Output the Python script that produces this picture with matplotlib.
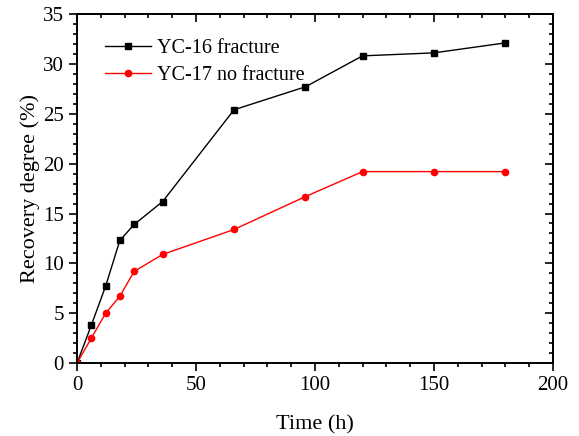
import numpy as np
import matplotlib.pyplot as plt
from matplotlib.ticker import MultipleLocator

# Recovery degree vs time
time_h = [0, 6, 12, 18, 24, 36, 66, 96, 120, 150, 180]
yc16_fracture = [0, 3.8, 7.7, 12.3, 13.9, 16.2, 25.4, 27.7, 30.8, 31.1, 32.1]
yc17_no_fracture = [0, 2.5, 5.0, 6.7, 9.2, 10.9, 13.4, 16.7, 19.2, 19.2, 19.2]

plt.rcParams['font.family'] = ['Liberation Serif', 'DejaVu Serif']

fig = plt.figure(figsize=(5.79, 4.36), dpi=100)
ax = fig.add_axes([0.133, 0.167, 0.822, 0.801])

ax.plot(time_h, yc16_fracture, color='black', marker='s', markersize=4.5,
        linewidth=1.0, label='YC-16 fracture')
ax.plot(time_h, yc17_no_fracture, color='red', marker='o', markersize=4.5,
        linewidth=1.0, label='YC-17 no fracture')

ax.set_xlim(0, 200)
ax.set_ylim(0, 35)
ax.xaxis.set_major_locator(MultipleLocator(50))
ax.xaxis.set_minor_locator(MultipleLocator(10))
ax.yaxis.set_major_locator(MultipleLocator(5))
ax.yaxis.set_minor_locator(MultipleLocator(1))

# left/bottom ticks point out, top/right mirror ticks point in
ax.tick_params(which='both', direction='out', labelsize=15, width=1.2)
ax.tick_params(which='major', length=6)
ax.tick_params(which='minor', length=3)

top = ax.secondary_xaxis('top')
right = ax.secondary_yaxis('right')
top.xaxis.set_major_locator(MultipleLocator(50))
top.xaxis.set_minor_locator(MultipleLocator(10))
right.yaxis.set_major_locator(MultipleLocator(5))
right.yaxis.set_minor_locator(MultipleLocator(1))
for sec in (top, right):
    sec.tick_params(which='both', direction='in', width=1.2,
                    labeltop=False, labelright=False)
    sec.tick_params(which='major', length=6)
    sec.tick_params(which='minor', length=3)

for sp in ax.spines.values():
    sp.set_linewidth(1.4)
top.spines['top'].set_linewidth(1.4)
right.spines['right'].set_linewidth(1.4)

ax.set_xlabel('Time (h)', fontsize=16, labelpad=14)
ax.set_ylabel('Recovery degree (%)', fontsize=16, labelpad=2)

ax.legend(loc='upper left', bbox_to_anchor=(0.016, 0.985), frameon=False,
          fontsize=14.5, handlelength=2.3, borderaxespad=0.6, labelspacing=0.35,
          handletextpad=0.3)

fig.savefig('out.png', dpi=100)
